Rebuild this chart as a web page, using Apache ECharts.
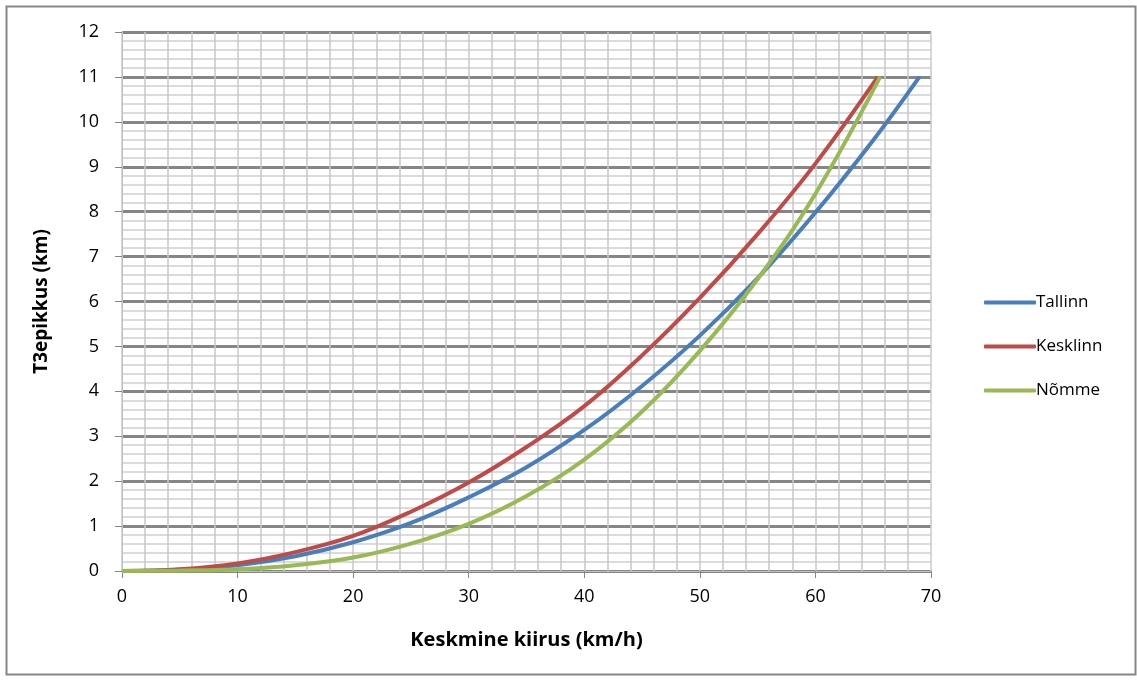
<!DOCTYPE html>
<html>
<head>
<meta charset="utf-8">
<script src="https://cdn.jsdelivr.net/npm/echarts@6/dist/echarts.min.js"></script>
<style>
html,body{margin:0;padding:0;background:#fff;}
#chart{width:1137px;height:680px;}
</style>
</head>
<body>
<div id="chart"></div>
<script>
// Data
const tallinnX = [0, 5, 10, 15, 20, 25, 30, 35, 40, 45, 50, 55, 60, 65, 69];
const tallinnY = [0, 0.03, 0.13, 0.33, 0.64, 1.07, 1.64, 2.31, 3.14, 4.12, 5.24, 6.52, 7.98, 9.59, 11];
const kesklinnX = [0, 5, 10, 15, 20, 25, 30, 35, 40, 45, 50, 55, 60, 65.4];
const kesklinnY = [0, 0.04, 0.17, 0.42, 0.78, 1.32, 1.97, 2.76, 3.67, 4.8, 6.08, 7.5, 9.07, 11];
const nommeX = [0, 5, 10, 15, 20, 25, 30, 35, 40, 45, 50, 55, 60, 65.6];
const nommeY = [0, 0.01, 0.04, 0.13, 0.3, 0.61, 1.05, 1.67, 2.48, 3.55, 4.9, 6.5, 8.4, 11];
const seriesNames = ['Tallinn', 'Kesklinn', 'Nõmme'];
const seriesColors = ['#4A7EBB', '#BE4B48', '#98B954'];
const xTitle = 'Keskmine kiirus (km/h)';
const yTitle = 'T3epikkus (km)';

function pairs(xs, ys) { return xs.map((x, i) => [x, ys[i]]); }
const allData = [pairs(tallinnX, tallinnY), pairs(kesklinnX, kesklinnY), pairs(nommeX, nommeY)];

const FONT = '"Open Sans", "Noto Sans", sans-serif';
const chart = echarts.init(document.getElementById('chart'));
chart.setOption({
  animation: false,
  backgroundColor: '#ffffff',
  graphic: [{
    type: 'rect',
    shape: { x: 6.5, y: 6.5, width: 1129, height: 668 },
    style: { fill: 'none', stroke: '#868686', lineWidth: 2 },
    silent: true,
    z: -1
  }],
  grid: { left: 122, top: 32, right: 206, bottom: 109, containLabel: false },
  legend: {
    orient: 'vertical',
    left: 979,
    top: 289,
    itemWidth: 52,
    itemHeight: 4,
    itemGap: 27,
    icon: 'roundRect',
    textStyle: { fontFamily: FONT, fontSize: 17, color: '#000', padding: [0, 0, 0, -5] },
    data: seriesNames
  },
  xAxis: {
    type: 'value',
    min: 0, max: 70, interval: 10,
    name: xTitle,
    nameLocation: 'middle',
    nameGap: 59,
    nameTextStyle: { fontFamily: FONT, fontSize: 20, fontWeight: 'bold', color: '#000' },
    axisLine: { show: true, lineStyle: { color: '#BFBFBF', width: 1 } },
    axisTick: { show: true, length: 7, lineStyle: { color: '#868686' } },
    axisLabel: { fontFamily: FONT, fontSize: 18, color: '#000', margin: 17 },
    splitLine: { show: true, lineStyle: { color: '#C8C8C8', width: 1.5 } },
    minorTick: { show: false, splitNumber: 5 },
    minorSplitLine: { show: true, lineStyle: { color: '#C8C8C8', width: 1.5 } }
  },
  yAxis: {
    type: 'value',
    min: 0, max: 12, interval: 1,
    name: yTitle,
    nameLocation: 'middle',
    nameGap: 71,
    nameRotate: 90,
    nameTextStyle: { fontFamily: FONT, fontSize: 19, fontWeight: 'bold', color: '#000' },
    axisLine: { show: true, lineStyle: { color: '#BFBFBF', width: 1 } },
    axisTick: { show: true, length: 7, lineStyle: { color: '#868686' } },
    axisLabel: { fontFamily: FONT, fontSize: 18, color: '#000', margin: 23 },
    splitLine: { show: true, lineStyle: { color: '#868686', width: 3 } },
    minorTick: { show: false, splitNumber: 5 },
    minorSplitLine: { show: true, lineStyle: { color: '#CFCFCF', width: 1.5 } }
  },
  series: seriesNames.map((n, i) => ({
    name: n,
    type: 'line',
    data: allData[i],
    smooth: 0.4,
    showSymbol: false,
    symbol: 'none',
    color: seriesColors[i],
    lineStyle: { width: 4, color: seriesColors[i] },
    z: 3 + i
  }))
});
</script>
</body>
</html>
